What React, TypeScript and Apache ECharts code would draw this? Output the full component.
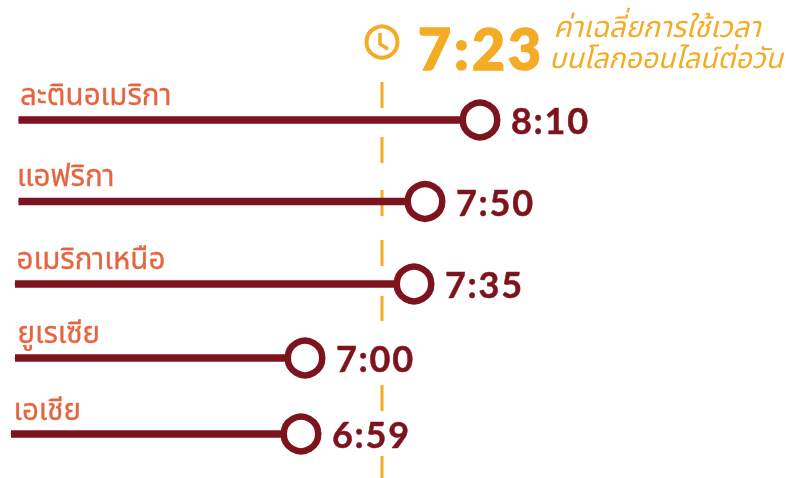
import React, { useEffect, useRef } from "react";
import * as echarts from "echarts";

const regions = ["ละตินอเมริกา", "แอฟริกา", "อเมริกาเหนือ", "ยูเรเซีย", "เอเชีย"];
const timeLabels = ["8:10", "7:50", "7:35", "7:00", "6:59"];
const rowPositions = [120, 201.5, 284, 358, 434];
const lineStarts = [18.5, 18.5, 15, 15, 11];
const lineEnds = [480, 425, 414, 305, 301];
const regionOffsets = [[-4, -27], [-7, -27], [-4, -27], [-3, -27], [-3, -26]];
const averagePosition = 382;
const averageDashes = [[82, 108], [137, 163], [190, 216], [240, 266], [296, 321], [385, 411], [456, 478]];
const averageLabel = "7:23";
const captionLines = ["ค่าเฉลี่ยการใช้เวลา", "บนโลกออนไลน์ต่อวัน"];

const MAROON = "#7d141d";
const GOLD = "#f4ac27";
const CORAL = "#e4653f";
const THAI = "Lato, 'Noto Sans Thai', 'Noto Sans', 'DejaVu Sans', sans-serif";

export default function App() {
  const ref = useRef<HTMLDivElement>(null);
  useEffect(() => {
    const chart = echarts.init(ref.current!, undefined, { renderer: "svg" });
    const series: any[] = regions.map((name, i) => ({
      type: "line",
      name,
      z: 3,
      silent: true,
      lineStyle: { color: MAROON, width: 7.5, cap: "butt" },
      data: [
        {
          value: [lineStarts[i], rowPositions[i]],
          symbol: "circle",
          symbolSize: 1,
          itemStyle: { color: MAROON },
          label: {
            show: true,
            position: "right",
            formatter: name,
            color: CORAL,
            fontSize: 29.5,
            fontFamily: THAI,
            textBorderColor: CORAL,
            textBorderWidth: 0.3,
            offset: regionOffsets[i],
          },
        },
        {
          value: [lineEnds[i], rowPositions[i]],
          symbol: "circle",
          symbolSize: 34.5,
          itemStyle: { color: "#fff", borderColor: MAROON, borderWidth: 6.5 },
          label: {
            show: true,
            position: "right",
            formatter: timeLabels[i],
            color: MAROON,
            fontSize: 36,
            fontWeight: 700,
            fontFamily: "Lato, sans-serif",
            textBorderColor: MAROON,
            textBorderWidth: 0.5,
            offset: [5.5, 0],
          },
        },
      ],
    }));
    const dashData: any[] = [];
    averageDashes.forEach(([a, b]) => {
      dashData.push([averagePosition, a], [averagePosition, b], [null, null]);
    });
    series.push({
      type: "line",
      name: "average",
      z: 1,
      silent: true,
      symbol: "none",
      connectNulls: false,
      lineStyle: { color: GOLD, width: 3, cap: "butt" },
      data: dashData,
    });
    chart.setOption({
      animation: false,
      grid: { left: 0, right: 0, top: 0, bottom: 0 },
      xAxis: { type: "value", min: 0, max: 786, show: false },
      yAxis: { type: "value", min: 0, max: 478, inverse: true, show: false },
      series,
      graphic: [
        { type: "circle", shape: { cx: 382, cy: 42, r: 15.5 }, style: { fill: "none", stroke: GOLD, lineWidth: 4 } },
        { type: "polyline", shape: { points: [[380, 33], [380, 44], [388, 49]] }, style: { fill: "none", stroke: GOLD, lineWidth: 3.5 } },
        {
          type: "text",
          x: 418,
          y: 19,
          style: { text: averageLabel, fill: GOLD, fontSize: 57, fontWeight: 900, fontFamily: "Lato, sans-serif", stroke: GOLD, lineWidth: 1.5 },
        },
        {
          type: "text",
          x: 553.5,
          y: 11,
          style: { text: captionLines[0], fill: GOLD, fontSize: 29, fontStyle: "italic", fontFamily: THAI },
        },
        {
          type: "text",
          x: 549,
          y: 43,
          style: { text: captionLines[1], fill: GOLD, fontSize: 28.4, fontStyle: "italic", fontFamily: THAI },
        },
      ],
    });
    return () => chart.dispose();
  }, []);
  return (
    <>
      <style>{`text[fill="${MAROON}"]{letter-spacing:1.7px} text[style*="57px"]{letter-spacing:3px}`}</style>
      <div ref={ref} style={{ position: "fixed", left: 0, top: 0, width: 786, height: 478 }} />
    </>
  );
}
